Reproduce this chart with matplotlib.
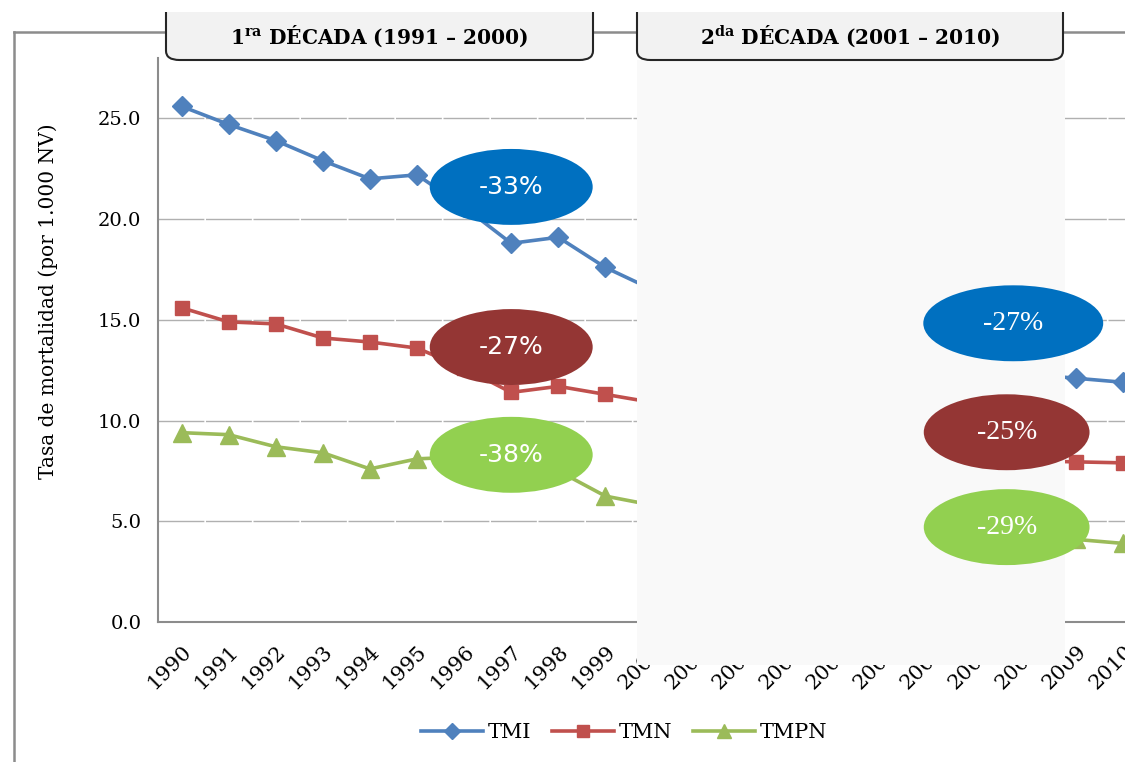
import matplotlib
matplotlib.use('Agg')
import matplotlib.pyplot as plt
from matplotlib.patches import Ellipse, FancyBboxPatch, Rectangle
from matplotlib.lines import Line2D

plt.rcParams['font.family'] = ['DejaVu Serif']
plt.rcParams['mathtext.fontset'] = 'custom'
plt.rcParams['mathtext.bf'] = 'DejaVu Serif:bold'
plt.rcParams['mathtext.rm'] = 'DejaVu Serif'

# data (2001-2008 are hidden behind the grey panel in the original, estimated)
years = list(range(1990, 2011))
tmi = [25.6, 24.7, 23.9, 22.9, 22.0, 22.2, 20.6, 18.8, 19.1, 17.6, 16.5,
       16.3, 15.7, 15.1, 14.6, 14.0, 13.5, 13.0, 12.3, 12.1, 11.9]
tmn = [15.6, 14.9, 14.8, 14.1, 13.9, 13.6, 12.6, 11.4, 11.7, 11.3, 10.9,
       10.5, 10.1, 9.7, 9.4, 9.0, 8.7, 8.4, 8.0, 7.95, 7.9]
tmpn = [9.4, 9.3, 8.7, 8.4, 7.6, 8.1, 8.2, 7.9, 7.5, 6.25, 5.8,
        5.5, 5.2, 5.0, 4.8, 4.6, 4.5, 4.3, 4.2, 4.1, 3.9]
series_names = ['TMI', 'TMN', 'TMPN']
decade_titles = [r'1$^{\mathbf{ra}}$ DÉCADA (1991 – 2000)',
                 r'2$^{\mathbf{da}}$ DÉCADA (2001 – 2010)']
change_d1 = ['-33%', '-27%', '-38%']
change_d2 = ['-27%', '-25%', '-29%']

colors = ['#4f81bd', '#c0504d', '#9bbb59']
bubble_colors = ['#0070c0', '#943634', '#92d050']
markers = ['D', 's', '^']
msizes = [10.5, 10.5, 12.5]

W, H = 1125, 762
fig = plt.figure(figsize=(W / 100, H / 100), dpi=100)


def fx(x):
    return x / W


def fy(y):
    return 1 - y / H


ax = fig.add_axes([fx(158), fy(622), fx(1147) - fx(158), fy(58) - fy(622)])
for vals, c, m, ms, name in zip([tmi, tmn, tmpn], colors, markers, msizes, series_names):
    ax.plot(years, vals, color=c, lw=2.6, marker=m, markersize=ms, label=name)

ax.set_xlim(1989.5, 2010.5)
ax.set_ylim(0, 28)
ax.set_yticks([0, 5, 10, 15, 20, 25])
ax.set_yticklabels([f'{v:.1f}' for v in [0, 5, 10, 15, 20, 25]], fontsize=14)
ax.set_xticks(years)
ax.set_xticklabels([str(y) for y in years], rotation=45, ha='right',
                   rotation_mode='anchor', fontsize=15)
ax.tick_params(axis='y', length=0, pad=12)
ax.tick_params(axis='x', length=0, pad=14)
ax.grid(axis='y', color='#b0b0b0', lw=1.0, linestyle=(0, (33, 1.2)))
ax.set_axisbelow(True)
for s in ['top', 'right']:
    ax.spines[s].set_visible(False)
for s in ['left', 'bottom']:
    ax.spines[s].set_color('#8c8c8c')
    ax.spines[s].set_linewidth(1.5)

fig.text(fx(48), fy(301), 'Tasa de mortalidad (por 1.000 NV)', rotation=90,
         ha='center', va='center', fontsize=14.5)

# outer frame
fig.add_artist(Line2D([fx(14), fx(1125)], [fy(32), fy(32)], color='#8c8c8c', lw=1.8))
fig.add_artist(Line2D([fx(14), fx(14)], [fy(32), fy(762)], color='#8c8c8c', lw=1.8))

# grey panel covering the second decade
fig.add_artist(Rectangle((fx(637), fy(665)), fx(1065) - fx(637), fy(60) - fy(665),
                         transform=fig.transFigure, facecolor='#f9f9f9',
                         edgecolor='none', zorder=5))

# decade headers
for (x0, x1), title in zip([(166, 593), (637, 1063)], decade_titles):
    fig.add_artist(FancyBboxPatch((fx(x0), fy(60)), fx(x1) - fx(x0), fy(-20) - fy(60),
                                  boxstyle='round,pad=0,rounding_size=0.012',
                                  transform=fig.transFigure, facecolor='#f2f2f2',
                                  edgecolor='#262626', lw=1.5, zorder=6))
    fig.text(fx((x0 + x1) / 2), fy(36), title, ha='center', va='center',
             fontsize=14.5, fontweight='bold', zorder=8)
fig.add_artist(Rectangle((0, fy(12)), 1, fy(0) - fy(12), transform=fig.transFigure,
                         facecolor='white', edgecolor='none', zorder=7))

# change bubbles
left_pos = [(1997.0, 21.6), (1997.0, 13.65), (1997.0, 8.3)]
right_pos = [(2007.66, 14.83), (2007.52, 9.42), (2007.52, 4.71)]
right_w = [3.82, 3.52, 3.52]
for (x, y), c, t in zip(left_pos, bubble_colors, change_d1):
    fig.add_artist(Ellipse((x, y), 3.46, 3.77, transform=ax.transData,
                           facecolor=c, edgecolor='none', zorder=9, clip_on=False))
    fig.text(x, y, t, transform=ax.transData, ha='center', va='center',
             color='white', fontsize=18, zorder=10,
             family=['Liberation Sans Narrow', 'DejaVu Sans'])
for (x, y), w, c, t in zip(right_pos, right_w, bubble_colors, change_d2):
    fig.add_artist(Ellipse((x, y), w, 3.77, transform=ax.transData,
                           facecolor=c, edgecolor='none', zorder=9, clip_on=False))
    fig.text(x, y, t, transform=ax.transData, ha='center', va='center',
             color='white', fontsize=20, zorder=10,
             family=['Liberation Serif', 'DejaVu Serif'])

fig.legend(loc='center', bbox_to_anchor=(fx(624), fy(733)), ncol=3, frameon=False,
           fontsize=15, handlelength=3.0, columnspacing=1.0, handletextpad=0.2,
           markerscale=0.8)

fig.savefig('out.png', dpi=100)
